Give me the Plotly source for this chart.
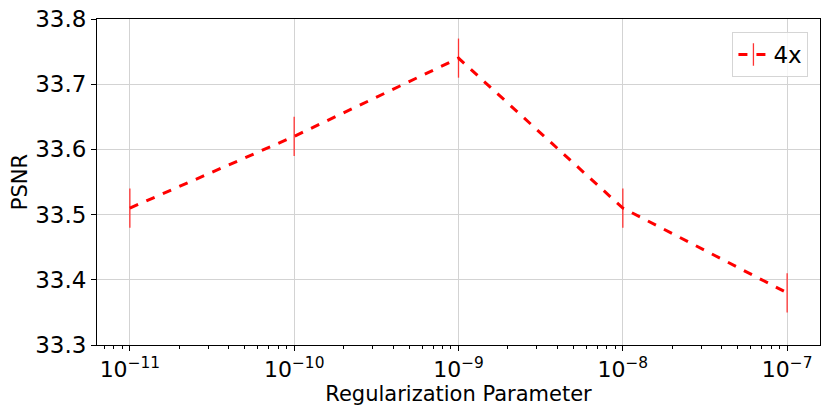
import numpy as np
import plotly.graph_objects as go

reg_params = [1e-11, 1e-10, 1e-9, 1e-8, 1e-7]
psnr_4x = [33.51, 33.62, 33.74, 33.51, 33.38]
psnr_err = [0.03, 0.03, 0.03, 0.03, 0.03]
x_tick_vals = [1e-11, 1e-10, 1e-9, 1e-8, 1e-7]
x_tick_text = ["10<sup>\u221211</sup>", "10<sup>\u221210</sup>", "10<sup>\u22129</sup>",
               "10<sup>\u22128</sup>", "10<sup>\u22127</sup>"]
y_tick_vals = [33.3, 33.4, 33.5, 33.6, 33.7, 33.8]

# log minor ticks (2..9 per decade)
minor_vals = [k * 10.0 ** e for e in range(-12, -6) for k in range(2, 10)]

font = "DejaVu Sans"
red = "red"

fig = go.Figure()
fig.add_trace(go.Scatter(
    x=reg_params, y=psnr_4x, name="4x", mode="lines", showlegend=False,
    line=dict(color=red, width=3, dash="dash"),
    error_y=dict(type="data", array=psnr_err, color="#ff3333", thickness=1.3, width=0),
))
# legend entry: dashed line with error-bar tick
fig.add_trace(go.Scatter(
    x=[None], y=[None], name="4x", mode="lines+markers",
    line=dict(color=red, width=3, dash="dash"),
    marker=dict(symbol="line-ns", size=36, color="#ff3333",
                line=dict(color="#ff3333", width=1.3)),
))

# page body has an 8px margin, so the figure is a bit smaller than the window
fig.update_layout(
    width=822, height=407,
    paper_bgcolor="white", plot_bgcolor="white",
    margin=dict(l=89, r=10, t=11, b=70),
    font=dict(family=font, size=20, color="black"),
    showlegend=True,
    legend=dict(x=0.984, y=0.96, xanchor="right", yanchor="top",
                bordercolor="#d5d5d5", borderwidth=1, bgcolor="rgba(255,255,255,0.8)",
                font=dict(size=23), itemsizing="trace"),
)
fig.update_xaxes(
    type="log", range=[-11.2, -6.8], automargin=False, ticklabeloverflow="allow",
    tickvals=x_tick_vals, ticktext=x_tick_text,
    showline=True, linecolor="black", linewidth=1, mirror=True,
    ticks="outside", ticklen=5, tickcolor="black",
    showgrid=True, gridcolor="#d3d3d3", gridwidth=1,
    minor=dict(tickvals=minor_vals, ticks="outside", ticklen=3, tickcolor="black", showgrid=False),
    title=dict(text="Regularization Parameter", standoff=2, font=dict(size=21)),
    tickfont=dict(size=22),
)
fig.update_yaxes(
    range=[33.3, 33.8], tickvals=y_tick_vals, tickformat=".1f", automargin=False,
    ticklabeloverflow="allow",
    showline=True, linecolor="black", linewidth=1, mirror=True,
    ticks="outside", ticklen=5, tickcolor="black",
    showgrid=True, gridcolor="#d3d3d3", gridwidth=1,
    title=dict(text="PSNR", standoff=8, font=dict(size=21)),
    tickfont=dict(size=23), zeroline=False,
)

fig.write_html("out.html")
